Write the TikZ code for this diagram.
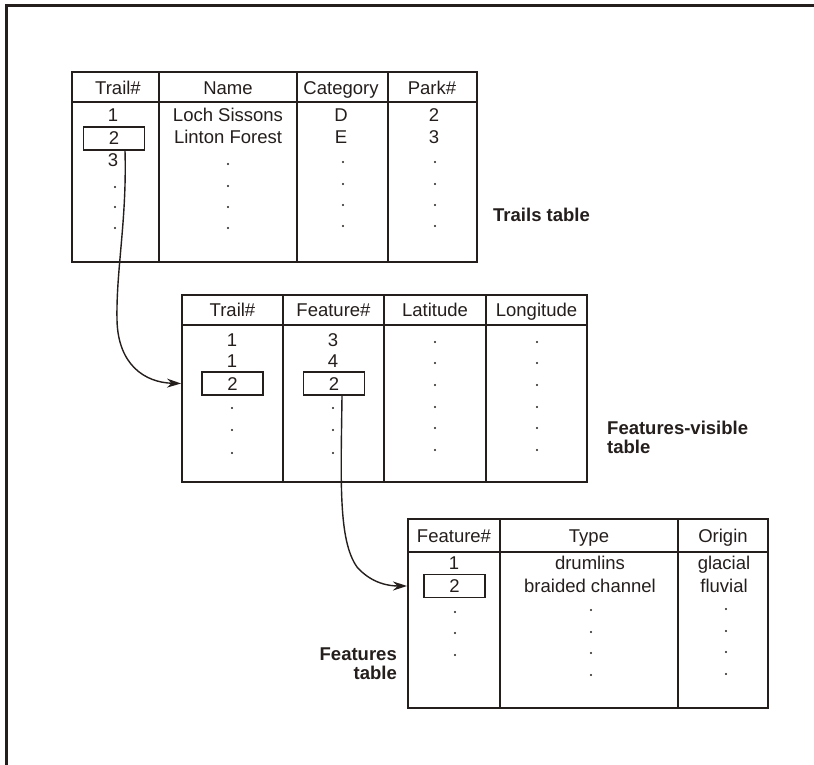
\documentclass[tikz,border=0pt]{standalone}
\usepackage{fontspec}
\setmainfont{Liberation Sans}
\usetikzlibrary{arrows.meta}
\definecolor{ink}{RGB}{36,30,28}
\begin{document}
\begin{tikzpicture}[x=1pt,y=-1pt,
  txt/.style={inner sep=0pt, text=ink, text height=13pt, text depth=0pt,
    font=\fontsize{18.5}{20}\selectfont},
  lbl/.style={inner sep=0pt, text=ink, font=\bfseries\fontsize{18.5}{19.5}\selectfont},
  tbl/.style={draw=ink, line width=2pt, inner sep=0pt},
  keybox/.style={txt, draw=ink, line width=1.5pt, minimum width=61pt, minimum height=23pt},
  inner/.style={draw=ink, line width=1.5pt},
  link/.style={draw=ink, line width=1.4pt, -{Stealth[length=14pt,width=9pt]}},
  dot/.style={fill=ink}
]
\useasboundingbox[fill=white] (0,0) rectangle (814,765);
% frame
\draw[ink, line width=3pt] (814,6) -- (6,6) -- (6,765);

% ---------------- Trails table
\node[tbl, minimum width=405pt, minimum height=190pt] (trails) at (274.5,167) {};
\draw[inner] (72,102) -- (477,102);
\foreach \x in {159,297,388} \draw[inner] (\x,72) -- (\x,262);
\node[txt] (h1) at (118,88) {Trail\#};
\node[txt] (h2) at (228,88) {Name};
\node[txt] (h3) at (341,88) {Category};
\node[txt] (h4) at (432,88) {Park\#};
\node[txt] (t1) at (113,115) {1};
\node[keybox] (t2) at (114,138.5) {2};
\node[txt] (t3) at (113,160) {3};
\node[txt] (n1) at (228,115) {Loch Sissons};
\node[txt] (n2) at (228,137) {Linton Forest};
\node[txt] (c1) at (341,115) {D};
\node[txt] (c2) at (341,137) {E};
\node[txt] (p1) at (434,115) {2};
\node[txt] (p2) at (434,137) {3};
\foreach \y in {187,207,228} \fill[dot] (115,\y) circle[radius=1.2pt];
\foreach \y in {164,186,207,228} {
  \fill[dot] (228,\y) circle[radius=1.2pt];
  \fill[dot] (343,\y-2) circle[radius=1.2pt];
  \fill[dot] (435,\y-2) circle[radius=1.2pt];
}
\node[lbl, anchor=west, text height=13pt, text depth=0pt] (lt) at (493,215) {Trails table};

% ---------------- Features-visible table
\node[tbl, minimum width=405pt, minimum height=187pt] (fvis) at (384.5,388.5) {};
\draw[inner] (182,325) -- (587,325);
\foreach \x in {283,384,486} \draw[inner] (\x,295) -- (\x,482);
\node[txt] (fh1) at (232.5,310) {Trail\#};
\node[txt] (fh2) at (333.5,310) {Feature\#};
\node[txt] (fh3) at (435,310) {Latitude};
\node[txt] (fh4) at (536.5,310) {Longitude};
\node[txt] (fa1) at (232,340) {1};
\node[txt] (fa2) at (232,361) {1};
\node[keybox] (fa3) at (232.5,383.5) {2};
\node[txt] (fb1) at (333,340) {3};
\node[txt] (fb2) at (333,361) {4};
\node[keybox] (fb3) at (334,383.5) {2};
\foreach \y in {408,430,453} {
  \fill[dot] (232,\y) circle[radius=1.2pt];
  \fill[dot] (333,\y) circle[radius=1.2pt];
}
\foreach \y in {342,363,385,407,428,450} {
  \fill[dot] (435,\y) circle[radius=1.2pt];
  \fill[dot] (537,\y) circle[radius=1.2pt];
}
\node[lbl, anchor=north west, align=left] (lfv) at (607,420.5) {Features-visible\\table};

% ---------------- Features table
\node[tbl, minimum width=360pt, minimum height=189pt] (feat) at (588,613.5) {};
\draw[inner] (408,552) -- (768,552);
\foreach \x in {500,678} \draw[inner] (\x,519) -- (\x,708);
\node[txt] (gh1) at (454,536) {Feature\#};
\node[txt] (gh2) at (589,536) {Type};
\node[txt] (gh3) at (723,536) {Origin};
\node[txt] (g1) at (454,563) {1};
\node[keybox] (g2) at (454.5,586) {2};
\node[txt] (ty1) at (590,563) {drumlins};
\node[txt] (ty2) at (590,586) {braided channel};
\node[txt] (o1) at (724,563) {glacial};
\node[txt] (o2) at (724,586) {fluvial};
\foreach \y in {612,633,655} \fill[dot] (455,\y) circle[radius=1.2pt];
\foreach \y in {610,632,653,675} {
  \fill[dot] (591,\y) circle[radius=1.2pt];
  \fill[dot] (726,\y-1) circle[radius=1.2pt];
}
\node[lbl, anchor=north east, align=right] (lf) at (397,647.5) {Features\\table};

% ---------------- connectors
\draw[link] ([xshift=11pt]t2.south) .. controls (127,220) and (116,270) .. (117,320)
  .. controls (118,365) and (145,382.5) .. (fvis.west |- fa3.center);
\draw[link] ([xshift=8pt]fb3.south) .. controls (341,480) and (338,540) .. (357,567)
  .. controls (372,584) and (390,586) .. (feat.west |- g2.center);
\end{tikzpicture}
\end{document}
